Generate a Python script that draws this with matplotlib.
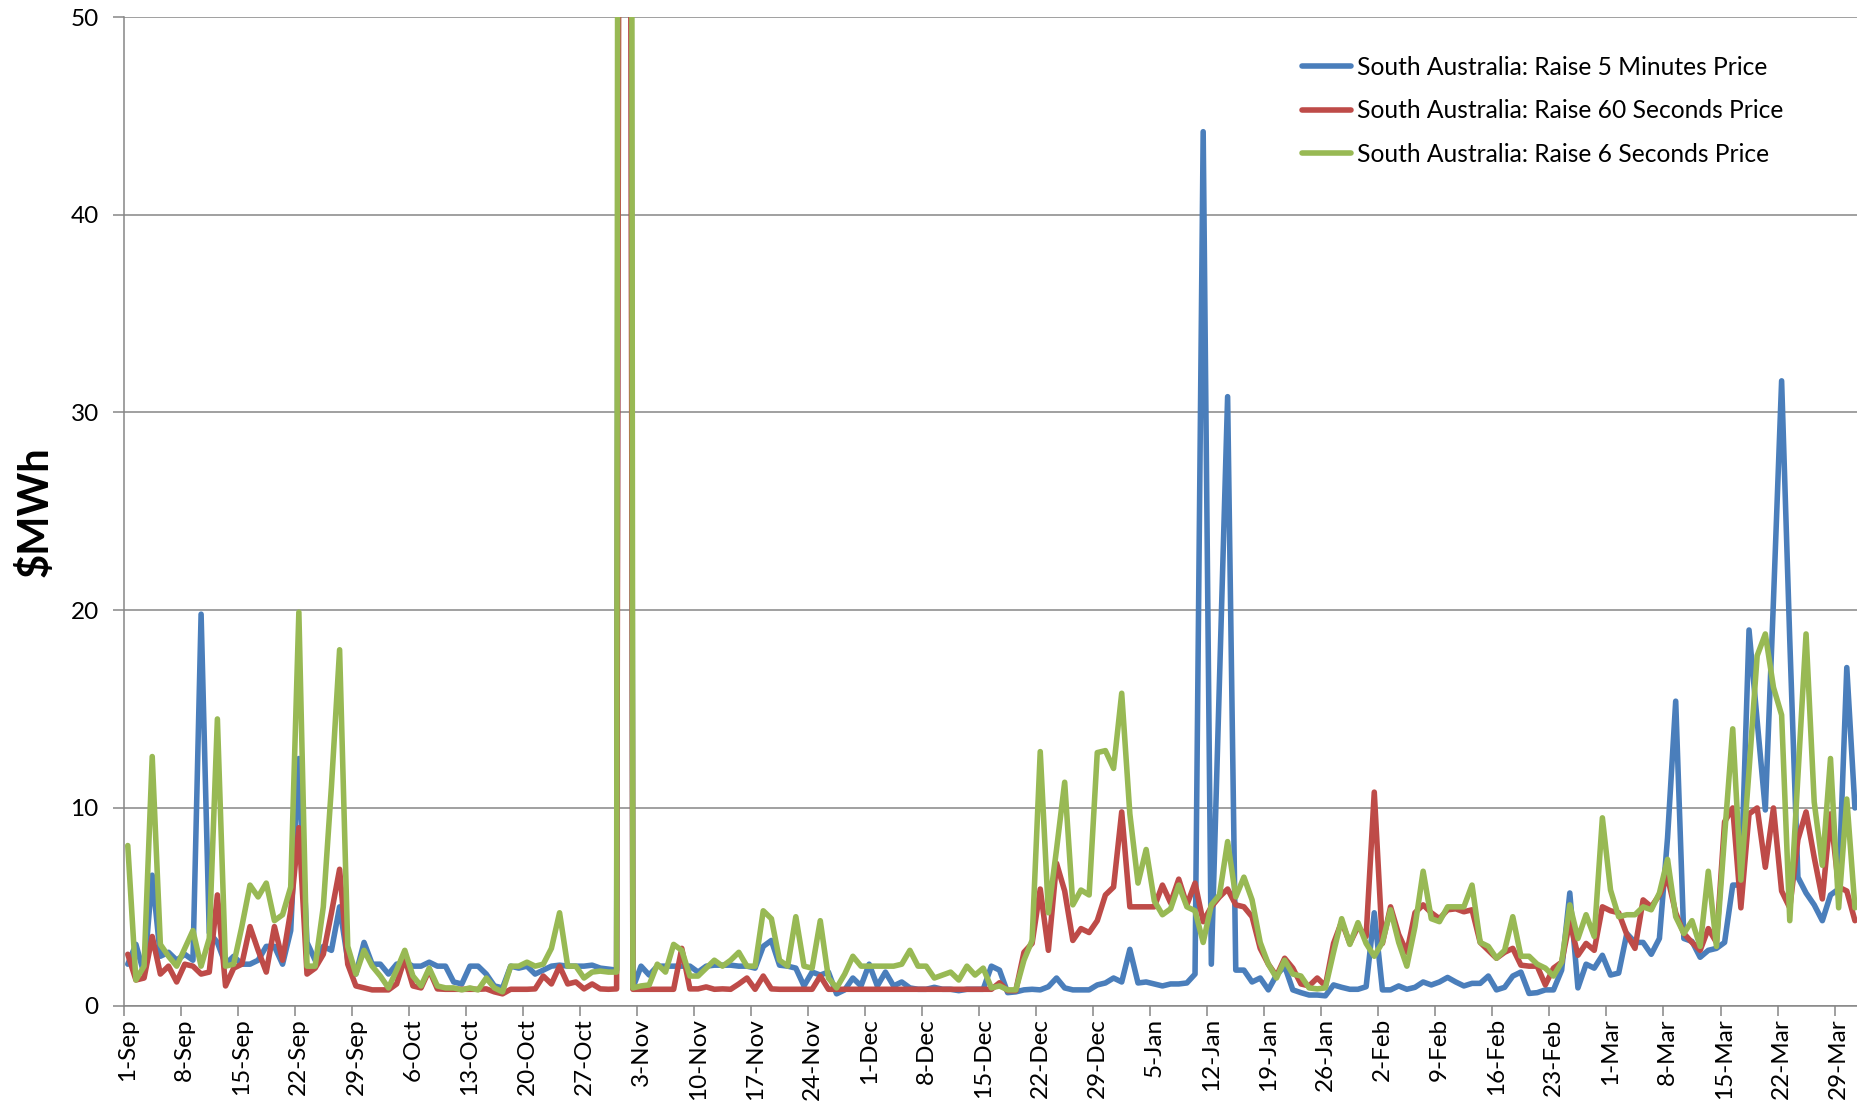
import matplotlib
matplotlib.use("Agg")
import matplotlib.pyplot as plt
import numpy as np

plt.rcParams['font.family'] = ['Lato', 'DejaVu Sans']

# daily prices, 1-Sep .. 31-Mar (leap year Feb)
raise_5min = [
    2.1, 3.1, 1.6, 6.6, 2.5, 2.7, 2.3, 2.6, 2.3, 19.8, 3.7, 3.2, 2.1, 2.5, 2.1, 2.1, 2.3, 3.0, 3.0, 2.1,
    3.8, 12.5, 3.2, 2.3, 3.0, 2.8, 5.0, 2.3, 1.6, 3.2, 2.1, 2.1, 1.6, 2.1, 2.2, 2.0, 2.0, 2.2, 2.0, 2.0,
    1.2, 1.1, 2.0, 2.0, 1.6, 1.0, 0.9, 2.0, 1.9, 2.0, 1.6, 1.8, 2.0, 2.05, 2.0, 2.0, 2.0, 2.05, 1.9, 1.85,
    1.8, 250.0, 0.9, 2.0, 1.55, 2.0, 2.0, 2.0, 2.0, 2.0, 1.7, 2.0, 2.05, 2.05, 2.05, 2.0, 2.0, 1.9, 3.0, 3.3,
    2.05, 2.0, 1.9, 1.0, 1.7, 1.55, 1.7, 0.6, 0.8, 1.4, 1.0, 2.1, 1.0, 1.7, 1.0, 1.2, 0.9, 0.83, 0.83, 0.93,
    0.83, 0.83, 0.76, 0.83, 0.83, 0.83, 2.0, 1.8, 0.66, 0.7, 0.8, 0.83, 0.8, 0.96, 1.4, 0.9, 0.8, 0.8, 0.8, 1.05,
    1.15, 1.4, 1.2, 2.85, 1.15, 1.2, 1.1, 1.0, 1.1, 1.1, 1.15, 1.6, 44.2, 2.1, 16.4, 30.8, 1.8, 1.8, 1.2, 1.4,
    0.8, 1.55, 2.0, 0.8, 0.66, 0.54, 0.54, 0.5, 1.05, 0.93, 0.83, 0.83, 0.96, 4.7, 0.8, 0.8, 1.0, 0.83, 0.93, 1.2,
    1.05, 1.2, 1.43, 1.2, 1.0, 1.13, 1.13, 1.5, 0.8, 0.93, 1.5, 1.7, 0.62, 0.66, 0.8, 0.8, 1.8, 5.7, 0.9, 2.1,
    1.9, 2.55, 1.55, 1.65, 3.65, 3.2, 3.2, 2.6, 3.4, 8.5, 15.4, 3.4, 3.25, 2.45, 2.8, 2.9, 3.2, 6.1, 6.1, 19.0,
    14.4, 9.9, 20.5, 31.6, 18.5, 6.5, 5.7, 5.1, 4.3, 5.6, 5.9, 17.1, 10.0,
]
raise_60sec = [
    2.6, 1.3, 1.4, 3.5, 1.6, 2.0, 1.2, 2.1, 2.0, 1.6, 1.7, 5.6, 1.0, 1.9, 2.1, 4.0, 2.8, 1.7, 4.0, 2.3,
    4.8, 9.0, 1.6, 1.9, 2.6, 4.7, 6.9, 2.1, 1.0, 0.9, 0.8, 0.8, 0.8, 1.1, 2.4, 1.0, 0.9, 1.8, 0.85, 0.83,
    0.83, 0.83, 0.83, 0.83, 0.85, 0.7, 0.6, 0.83, 0.83, 0.83, 0.85, 1.5, 1.1, 2.0, 1.1, 1.2, 0.85, 1.1, 0.85, 0.83,
    0.85, 200.0, 0.83, 0.83, 0.83, 0.83, 0.83, 0.83, 2.9, 0.85, 0.85, 0.95, 0.83, 0.85, 0.83, 1.1, 1.4, 0.83, 1.5, 0.85,
    0.83, 0.83, 0.83, 0.83, 0.83, 1.5, 0.83, 0.83, 0.83, 0.83, 0.83, 0.83, 0.83, 0.83, 0.83, 0.83, 0.83, 0.83, 0.83, 0.83,
    0.83, 0.83, 0.83, 0.83, 0.83, 0.83, 0.83, 1.16, 0.76, 0.76, 2.7, 3.15, 5.9, 2.8, 7.2, 5.8, 3.3, 3.9, 3.7, 4.3,
    5.6, 6.0, 9.8, 5.0, 5.0, 5.0, 5.0, 6.1, 5.2, 6.4, 5.1, 6.2, 4.25, 5.0, 5.5, 5.9, 5.1, 5.0, 4.5, 2.9,
    2.1, 1.5, 2.4, 1.9, 1.1, 1.0, 1.4, 1.0, 3.15, 4.25, 3.15, 4.0, 3.5, 10.8, 3.15, 5.0, 3.6, 2.7, 4.7, 5.1,
    4.7, 4.4, 4.85, 4.9, 4.75, 4.85, 3.2, 2.8, 2.4, 2.7, 2.9, 2.05, 2.0, 2.0, 1.05, 1.9, 2.2, 4.25, 2.55, 3.15,
    2.8, 5.0, 4.8, 4.7, 3.6, 2.9, 5.35, 5.0, 5.6, 6.5, 4.7, 3.65, 3.2, 2.8, 3.9, 3.2, 9.3, 10.0, 4.95, 9.7,
    10.0, 7.0, 10.0, 5.8, 4.95, 8.4, 9.8, 7.5, 5.4, 9.7, 6.0, 5.8, 4.3,
]
raise_6sec = [
    8.1, 1.3, 2.0, 12.6, 3.1, 2.5, 2.0, 2.9, 3.8, 2.0, 3.4, 14.5, 2.0, 2.1, 4.0, 6.1, 5.5, 6.2, 4.3, 4.6,
    6.0, 19.9, 2.0, 2.0, 5.0, 11.1, 18.0, 3.0, 1.6, 2.8, 2.0, 1.5, 0.9, 1.8, 2.8, 1.5, 1.0, 1.9, 1.0, 0.9,
    0.9, 0.8, 0.9, 0.8, 1.4, 0.9, 0.7, 2.0, 2.0, 2.2, 2.0, 2.1, 2.9, 4.7, 2.0, 2.0, 1.4, 1.7, 1.75, 1.7,
    1.7, 400.0, 0.9, 1.0, 1.05, 2.1, 1.7, 3.1, 2.8, 1.5, 1.5, 1.9, 2.3, 2.0, 2.3, 2.7, 2.0, 2.0, 4.8, 4.4,
    2.3, 2.0, 4.5, 2.0, 1.9, 4.3, 1.4, 0.9, 1.6, 2.5, 2.0, 2.0, 2.0, 2.0, 2.0, 2.1, 2.8, 2.0, 2.0, 1.4,
    1.55, 1.7, 1.3, 2.0, 1.55, 1.9, 0.9, 1.0, 0.8, 0.8, 2.3, 3.3, 12.85, 4.7, 7.9, 11.3, 5.1, 5.85, 5.6, 12.8,
    12.9, 12.0, 15.8, 9.7, 6.2, 7.9, 5.3, 4.6, 4.9, 6.1, 5.0, 4.8, 3.2, 5.1, 5.6, 8.3, 5.5, 6.5, 5.35, 3.2,
    2.1, 1.4, 2.3, 1.6, 1.5, 0.9, 0.85, 0.9, 2.7, 4.4, 3.1, 4.2, 3.15, 2.5, 3.2, 4.85, 3.2, 2.0, 4.0, 6.8,
    4.4, 4.25, 5.0, 5.0, 5.0, 6.1, 3.2, 3.0, 2.4, 2.8, 4.5, 2.5, 2.5, 2.1, 1.9, 1.5, 2.2, 5.1, 3.4, 4.6,
    3.5, 9.5, 5.85, 4.5, 4.6, 4.6, 5.0, 4.85, 5.7, 7.4, 4.5, 3.65, 4.3, 3.0, 6.8, 3.0, 8.6, 14.0, 6.35, 11.9,
    17.7, 18.8, 16.1, 14.7, 4.3, 11.6, 18.8, 10.3, 7.1, 12.5, 4.95, 10.45, 4.95,
]

tick_labels = ["1-Sep", "8-Sep", "15-Sep", "22-Sep", "29-Sep", "6-Oct", "13-Oct", "20-Oct",
               "27-Oct", "3-Nov", "10-Nov", "17-Nov", "24-Nov", "1-Dec", "8-Dec", "15-Dec",
               "22-Dec", "29-Dec", "5-Jan", "12-Jan", "19-Jan", "26-Jan", "2-Feb", "9-Feb",
               "16-Feb", "23-Feb", "1-Mar", "8-Mar", "15-Mar", "22-Mar", "29-Mar"]

series = [("South Australia: Raise 5 Minutes Price", raise_5min, "#4A7EBB"),
          ("South Australia: Raise 60 Seconds Price", raise_60sec, "#BE4B48"),
          ("South Australia: Raise 6 Seconds Price", raise_6sec, "#98B954")]

W, H = 1857, 1114
fig = plt.figure(figsize=(W / 100, H / 100), dpi=100)
ax = fig.add_axes([123.7 / W, (H - 1005.7) / H, 1 - 123.7 / W, (1005.7 - 17) / H])

for name, vals, col in series:
    x = np.arange(len(vals))
    ax.plot(x, vals, color=col, lw=4.0, label=name, solid_joinstyle="round", solid_capstyle="round")

grid_col = "#868686"
ax.set_ylim(0, 50)
ax.set_xlim(-0.5, -0.5 + (W - 123.7) / 8.147)
ax.set_yticks(range(0, 51, 10))
ax.yaxis.grid(True, color=grid_col, lw=1.1)
ax.set_axisbelow(True)

pos = np.arange(0, 7 * len(tick_labels), 7)
ax.set_xticks(pos)
ax.set_xticklabels(tick_labels, rotation=90)
ax.set_xticks(pos - 0.5, minor=True)
ax.tick_params(axis="x", which="major", length=0, pad=9, labelsize=17.5)
ax.tick_params(axis="x", which="minor", length=7, width=1.1, color=grid_col)
ax.tick_params(axis="y", length=8, width=1.1, color=grid_col, pad=10, labelsize=17.5)

for s in ["top", "right"]:
    ax.spines[s].set_visible(False)
for s in ["left", "bottom"]:
    ax.spines[s].set_color(grid_col)
    ax.spines[s].set_linewidth(1.1)

fig.text(35 / W, 1 - 512 / H, "$MWh", rotation=90, fontsize=30, fontweight="bold",
         ha="center", va="center")

leg = ax.legend(loc="upper left", bbox_to_anchor=(1302 / W, 1 - 56 / H), bbox_transform=fig.transFigure,
                frameon=False, fontsize=17.7, borderpad=0, borderaxespad=0, handlelength=2.0,
                handletextpad=0.25, labelspacing=0.83)
for h in leg.get_lines():
    h.set_linewidth(4.0)

fig.savefig("out.png", dpi=100)
